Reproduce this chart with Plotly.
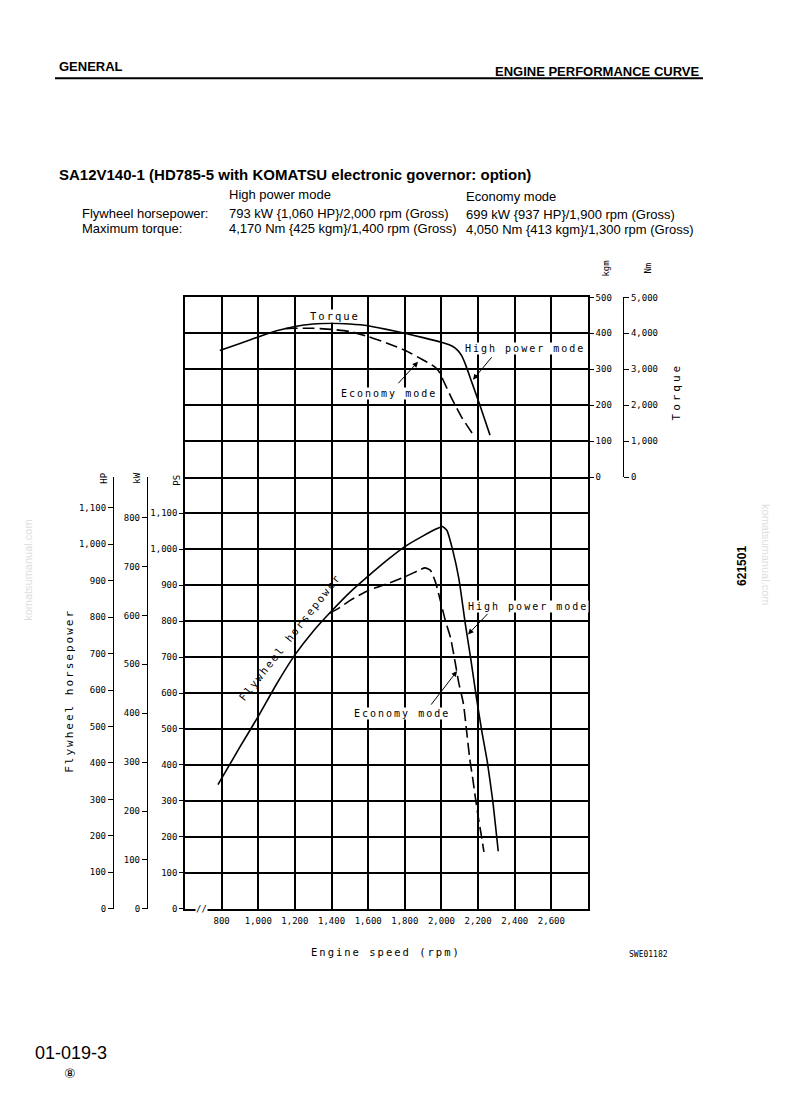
import plotly.graph_objects as go

W, H = 794, 1112

# ---------------- data ----------------
rpm_ticks = [800, 1000, 1200, 1400, 1600, 1800, 2000, 2200, 2400, 2600]
rpm_labels = ["800", "1,000", "1,200", "1,400", "1,600", "1,800", "2,000", "2,200", "2,400", "2,600"]

ps_ticks = [0, 100, 200, 300, 400, 500, 600, 700, 800, 900, 1000, 1100]
ps_labels = ["0", "100", "200", "300", "400", "500", "600", "700", "800", "900", "1,000", "1,100"]
hp_ticks = ps_ticks
hp_labels = ps_labels
kw_ticks = [0, 100, 200, 300, 400, 500, 600, 700, 800]
kw_labels = ["0", "100", "200", "300", "400", "500", "600", "700", "800"]
kgm_ticks = [0, 100, 200, 300, 400, 500]
kgm_labels = ["0", "100", "200", "300", "400", "500"]
nm_ticks = [0, 1000, 2000, 3000, 4000, 5000]
nm_labels = ["0", "1,000", "2,000", "3,000", "4,000", "5,000"]

# Flywheel horsepower (PS) - high power mode
pw_high_rpm = [780, 900, 1000, 1100, 1200, 1300, 1400, 1500, 1600, 1700, 1800, 1900, 1980, 2005,
               2030, 2060, 2095, 2130, 2160, 2190, 2220, 2250, 2280, 2310]
pw_high_ps = [345, 450, 535, 625, 706, 772, 828, 880, 925, 968, 1007, 1037, 1058, 1063,
              1052, 1000, 918, 793, 695, 590, 495, 410, 300, 160]
# Flywheel horsepower (PS) - economy mode
pw_eco_rpm = [1390, 1440, 1500, 1600, 1700, 1800, 1880, 1910, 1940, 1967, 1995, 2022, 2049,
              2076, 2095, 2120, 2136, 2155, 2170, 2185, 2200, 2218, 2232]
pw_eco_ps = [822, 836, 857, 885, 903, 923, 942, 948, 941, 909, 855, 800, 755,
             682, 627, 570, 500, 415, 365, 310, 258, 203, 158]
# Torque (kgm) - high power mode
tq_high_rpm = [790, 900, 1000, 1100, 1200, 1300, 1400, 1500, 1600, 1700, 1800, 1900, 2000,
               2060, 2090, 2110, 2130, 2165, 2210, 2265]
tq_high_kgm = [352, 372, 390, 407, 419, 426, 428, 426, 421, 411, 400, 388, 375,
               364, 352, 338, 315, 265, 200, 117]
# Torque (kgm) - economy mode
tq_eco_rpm = [1150, 1200, 1300, 1400, 1500, 1600, 1700, 1800, 1900, 1960, 1985, 2000, 2020,
              2060, 2110, 2175]
tq_eco_kgm = [413, 414, 414, 411, 405, 391, 373, 353, 326, 308, 295, 280, 258,
              215, 167, 117]

HP_PER_PS = 1.01387
KW_PER_PS = 1.35962


# ---------------- helpers ----------------
def px(x):
    return x / W


def py(y):
    return 1 - y / H


X0, X1 = 185, 588
YT, YM, YB = 295, 476.5, 912

MONO = "DejaVu Sans Mono"
SANS = "Liberation Sans"


def sp(t, s=2):
    return f'<span style="letter-spacing:{s}px">{t}</span>'


fig = go.Figure()
line = dict(color="black", width=1.6, shape="spline", smoothing=0.5)
dline = dict(color="black", width=1.6, shape="spline", smoothing=0.5, dash="12px,5px")

fig.add_trace(go.Scatter(x=pw_high_rpm, y=pw_high_ps, xaxis="x", yaxis="y", mode="lines", line=line))
fig.add_trace(go.Scatter(x=pw_eco_rpm, y=pw_eco_ps, xaxis="x", yaxis="y", mode="lines", line=dline))
fig.add_trace(go.Scatter(x=tq_high_rpm, y=tq_high_kgm, xaxis="x2", yaxis="y2", mode="lines", line=line))
fig.add_trace(go.Scatter(x=tq_eco_rpm, y=tq_eco_kgm, xaxis="x2", yaxis="y2", mode="lines", line=dline))
for ya in ["y3", "y4", "y5"]:
    fig.add_trace(go.Scatter(x=[None], y=[None], xaxis="x2" if ya == "y5" else "x", yaxis=ya,
                             mode="lines", hoverinfo="skip"))

gridbase = dict(showgrid=True, gridcolor="black", gridwidth=1.5, zeroline=False,
                showline=True, linecolor="black", linewidth=1.6)
tf = dict(family=MONO, size=9, color="black")

axis_extra = dict(showgrid=False, zeroline=False, showline=True, linecolor="black", linewidth=1.3,
                  ticks="outside", ticklen=5, tickcolor="black", tickwidth=1, tickfont=tf)

fig.update_layout(
    width=W, height=H, margin=dict(l=0, r=0, t=0, b=0),
    paper_bgcolor="white", plot_bgcolor="white", showlegend=False,
    xaxis=dict(domain=[px(X0), px(X1)], range=[600, 2800], anchor="y", tickvals=rpm_ticks,
               ticktext=rpm_labels, ticks="", tickfont=tf, mirror=False, ticklabelstandoff=3,
               **gridbase),
    xaxis2=dict(domain=[px(X0), px(X1)], range=[600, 2800], anchor="y2", tickvals=rpm_ticks,
                showticklabels=False, ticks="", mirror=True, **gridbase),
    yaxis=dict(domain=[py(YB), py(YM)], range=[0, 1200], anchor="x", tickvals=ps_ticks,
               ticktext=ps_labels, ticks="outside", ticklen=4, tickcolor="black", tickfont=tf,
               mirror=True, **gridbase),
    yaxis2=dict(domain=[py(YM), py(YT)], range=[0, 500], anchor="x2", side="right",
                tickvals=kgm_ticks, ticktext=kgm_labels, ticks="outside", ticklen=4,
                tickcolor="black", tickfont=tf, mirror=True, **gridbase),
    yaxis3=dict(overlaying="y", anchor="free", position=px(113), side="left",
                range=[0, 1200 / HP_PER_PS], tickvals=hp_ticks, ticktext=hp_labels, **axis_extra),
    yaxis4=dict(overlaying="y", anchor="free", position=px(147), side="left",
                range=[0, 1200 / KW_PER_PS], tickvals=kw_ticks, ticktext=kw_labels, **axis_extra),
    yaxis5=dict(overlaying="y2", anchor="free", position=px(623), side="right",
                range=[0, 5000], tickvals=nm_ticks, ticktext=nm_labels, **axis_extra),
)

ann = []


def txt(x, y, t, size=11, family=MONO, angle=0, bold=False, color="black", xanchor="center",
        bg=None):
    d = dict(x=px(x), y=py(y), xref="paper", yref="paper", text=(f"<b>{t}</b>" if bold else t),
             showarrow=False, font=dict(family=family, size=size, color=color), textangle=angle,
             xanchor=xanchor, yanchor="middle")
    if bg:
        d["bgcolor"] = bg
        d["borderpad"] = 0
    ann.append(d)


def arrow(xd, yd, axp, ayp, xr="x", yr="y"):
    ann.append(dict(x=xd, y=yd, xref=xr, yref=yr, ax=axp, ay=ayp, text="", showarrow=True,
                    arrowhead=2, arrowsize=1.1, arrowwidth=1, arrowcolor="black"))


# header
txt(57, 62, "GENERAL", size=13, family=SANS, bold=True, xanchor="left")
txt(702, 67, "ENGINE PERFORMANCE CURVE", size=13, family=SANS, bold=True, xanchor="right")
txt(57, 171, "SA12V140-1 (HD785-5 with KOMATSU electronic governor: option)", size=15,
    family=SANS, bold=True, xanchor="left")
SPEC = 13
txt(227, 191, "High power mode", size=SPEC, family=SANS, xanchor="left")
txt(464, 193, "Economy mode", size=SPEC, family=SANS, xanchor="left")
txt(80, 210, "Flywheel horsepower:", size=SPEC, family=SANS, xanchor="left")
txt(227, 210, "793 kW {1,060 HP}/2,000 rpm (Gross)", size=SPEC, family=SANS, xanchor="left")
txt(464, 211, "699 kW {937 HP}/1,900 rpm (Gross)", size=SPEC, family=SANS, xanchor="left")
txt(80, 226, "Maximum torque:", size=SPEC, family=SANS, xanchor="left")
txt(227, 226, "4,170 Nm {425 kgm}/1,400 rpm (Gross)", size=SPEC, family=SANS, xanchor="left")
txt(464, 227, "4,050 Nm {413 kgm}/1,300 rpm (Gross)", size=SPEC, family=SANS, xanchor="left")

# units
txt(606, 266, "kgm", size=9, angle=-90)
txt(648, 266, "Nm", size=9, angle=-90)
txt(104, 478, "HP", size=9, angle=-90)
txt(137, 478, "kW", size=9, angle=-90)
txt(177, 480, "PS", size=9, angle=-90)

# axis titles
txt(676, 390, sp("Torque", 3), size=11, angle=-90)
txt(70, 692, sp("Flywheel horsepower", 2), size=11, angle=-90)
txt(386, 956, sp("Engine speed (rpm)", 2), size=10.5)
txt(648, 958, "SWE01182", size=8)
txt(201, 912, "//", size=9, bg="white")

# in-chart labels
txt(335, 314, sp("Torque", 2), size=10.5, bg="white")
txt(525, 347, sp("High power mode", 2), size=10, bg="white")
txt(389, 392, sp("Economy mode", 2), size=10, bg="white")
txt(528, 607, sp("High power mode", 2), size=10, bg="white")
txt(402, 715, sp("Economy mode", 2), size=10, bg="white")
txt(290, 638, sp("Flywheel horsepower", 2), size=10.5, angle=-52)

arrow(2172, 271, 20, -24, "x2", "y2")
arrow(1872, 321, -21, 23, "x2", "y2")
arrow(2145, 763, 21, -22)
arrow(2085, 661, -27, 35)

# side marks and watermarks
txt(742, 566, "621501", size=12, family=SANS, bold=True, angle=-90)
txt(28, 570, "komatsumanual.com", size=11, family=SANS, angle=-90, color="#dedede")
txt(766, 555, "komatsumanual.com", size=11, family=SANS, angle=90, color="#dedede")

# footer
txt(33, 1058, "01-019-3", size=18, family=SANS, xanchor="left")
txt(70, 1078, "⑧", size=13, family="DejaVu Sans")

fig.update_layout(annotations=ann)
fig.add_shape(type="line", xref="paper", yref="paper", x0=px(55), x1=px(703), y0=py(74), y1=py(74),
              line=dict(color="black", width=2))

fig.write_html("out.html")
